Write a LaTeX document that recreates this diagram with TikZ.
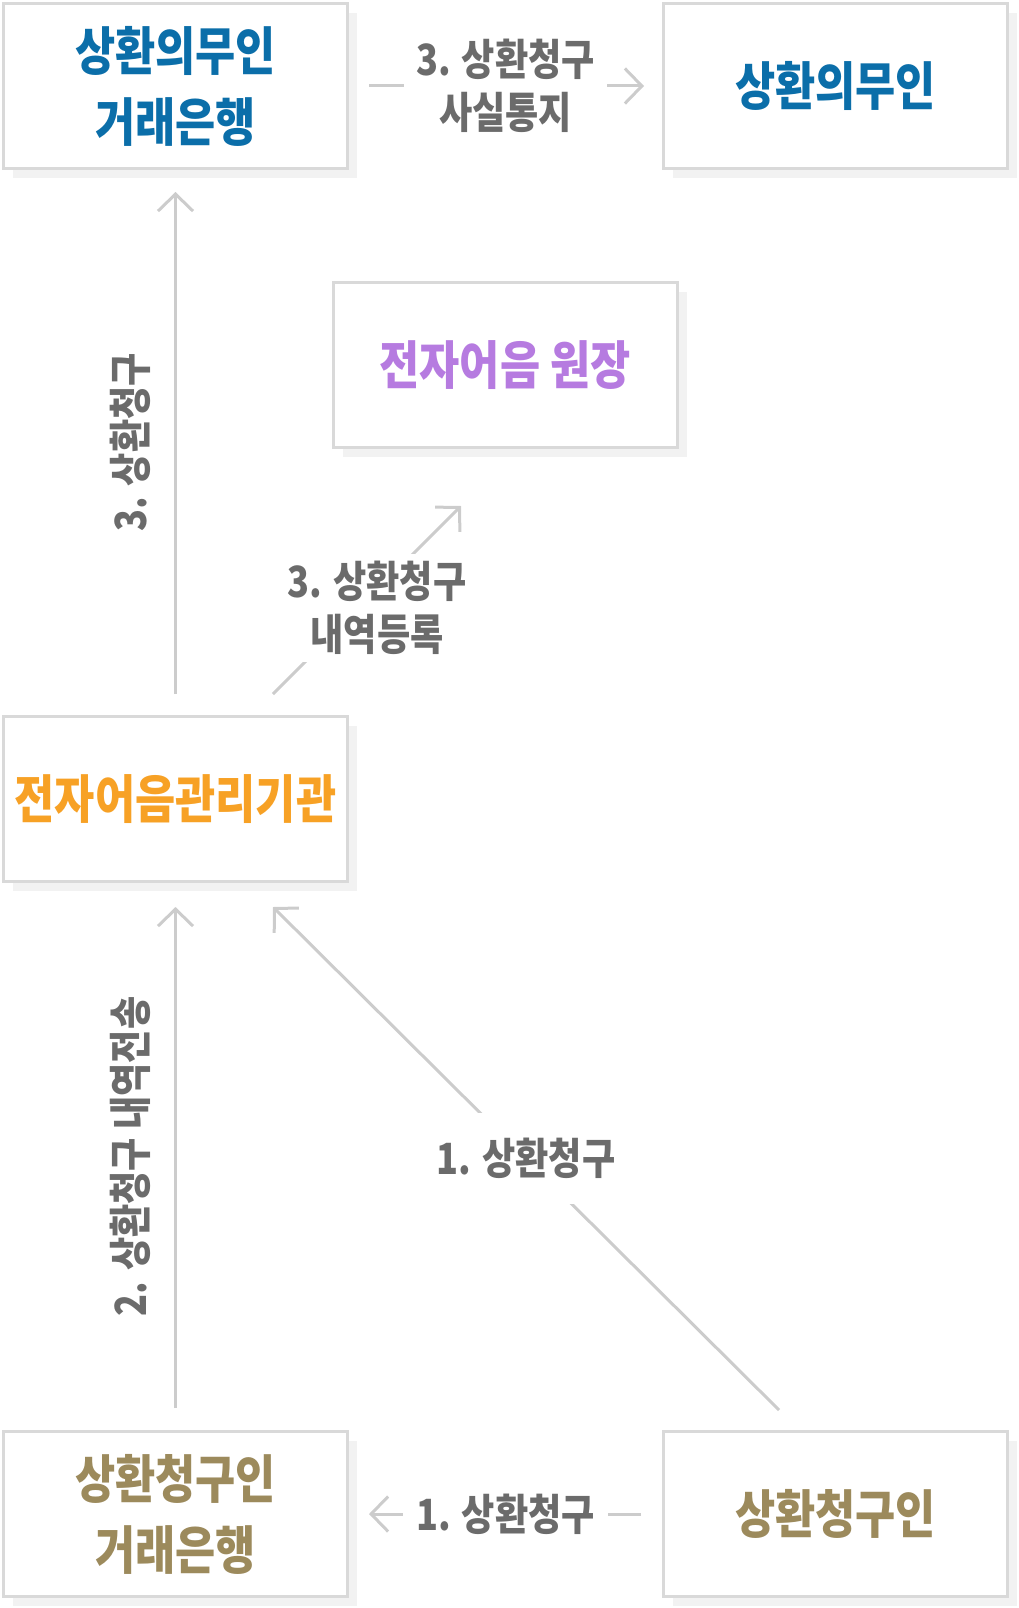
\documentclass[tikz,border=0pt]{standalone}
\usepackage{fontspec}
\setmainfont{Noto Sans CJK KR}[FakeStretch=0.84]
\usepackage{tikz}
\usetikzlibrary{arrows.meta}
\usetikzlibrary{shadows}
\definecolor{boxline}{HTML}{D9D9D9}
\definecolor{boxshadow}{HTML}{F2F2F2}
\definecolor{arrowgray}{HTML}{CCCCCC}
\definecolor{labelgray}{HTML}{6B6B6B}
\definecolor{debtorblue}{HTML}{0B6EA9}
\definecolor{ledgerpurple}{HTML}{B67BE0}
\definecolor{agencyorange}{HTML}{F7A125}
\definecolor{claimolive}{HTML}{9C8A5C}

\begin{document}
\begin{tikzpicture}[x=1pt,y=-1pt]
					\tikzset{box/.style = {shape=rectangle,draw=boxline,line width=3pt,fill=white,
							minimum width=344pt, minimum height=165pt, inner sep=0pt,
							drop shadow={shadow xshift=9.5pt, shadow yshift=-9.5pt, fill=boxshadow, opacity=1},
							align=center, font=\fontsize{52}{71}\selectfont\bfseries}}
					\tikzset{edge/.style = {-{Straight Barb[length=17pt,width=35pt]}, draw=arrowgray, line width=3pt}}
					\tikzset{lbl/.style = {text=labelgray, align=center, inner sep=0pt,
							font=\fontsize{43}{53}\selectfont\bfseries}}
					\path[use as bounding box] (0,0) rectangle (1018,1608);
					
					% vertices
					\node[box, text=debtorblue] (a) at (175.5,86) {상환의무인\\거래은행};
					\node[box, text=debtorblue] (b) at (835.5,86) {상환의무인};
					\node[box, text=ledgerpurple] (c) at (505,365) {전자어음 원장};
					\node[box, text=agencyorange] (d) at (175.5,799) {전자어음관리기관};
					\node[box, text=claimolive] (e) at (175.5,1514) {상환청구인\\거래은행};
					\node[box, text=claimolive] (f) at (835.5,1514) {상환청구인};
					
					%edges
					\draw[edge, shorten <=20pt, shorten >=18pt] (a) -- node[lbl, fill=white, inner xsep=12pt, inner ysep=4pt] {3. 상환청구\\사실통지} (b);
					\draw[edge, shorten <=21pt, shorten >=22pt] (d) -- node[lbl, sloped, above=23pt] {3. 상환청구} (a);
					\draw[edge] ([xshift=97.5pt,yshift=21pt]d.north) -- node[lbl, fill=white, inner ysep=7pt, xshift=10pt, yshift=-8pt] {3. 상환청구\\내역등록} ([xshift=-44pt,yshift=-57pt]c.south);
					\draw[edge, shorten <=22pt, shorten >=24pt] (e) -- node[lbl, sloped, above=23pt] {2. 상환청구 내역전송} (d);
					\draw[edge] ([xshift=-56.5pt,yshift=20pt]f.north) -- node[lbl, fill=white, inner xsep=4pt, inner ysep=25pt] {1. 상환청구} ([xshift=97.5pt,yshift=-24pt]d.south);
					\draw[edge, shorten <=21pt, shorten >=20pt] (f) -- node[lbl, fill=white, inner xsep=13pt, inner ysep=4pt] {1. 상환청구} (e);
					
					\end{tikzpicture}
\end{document}
